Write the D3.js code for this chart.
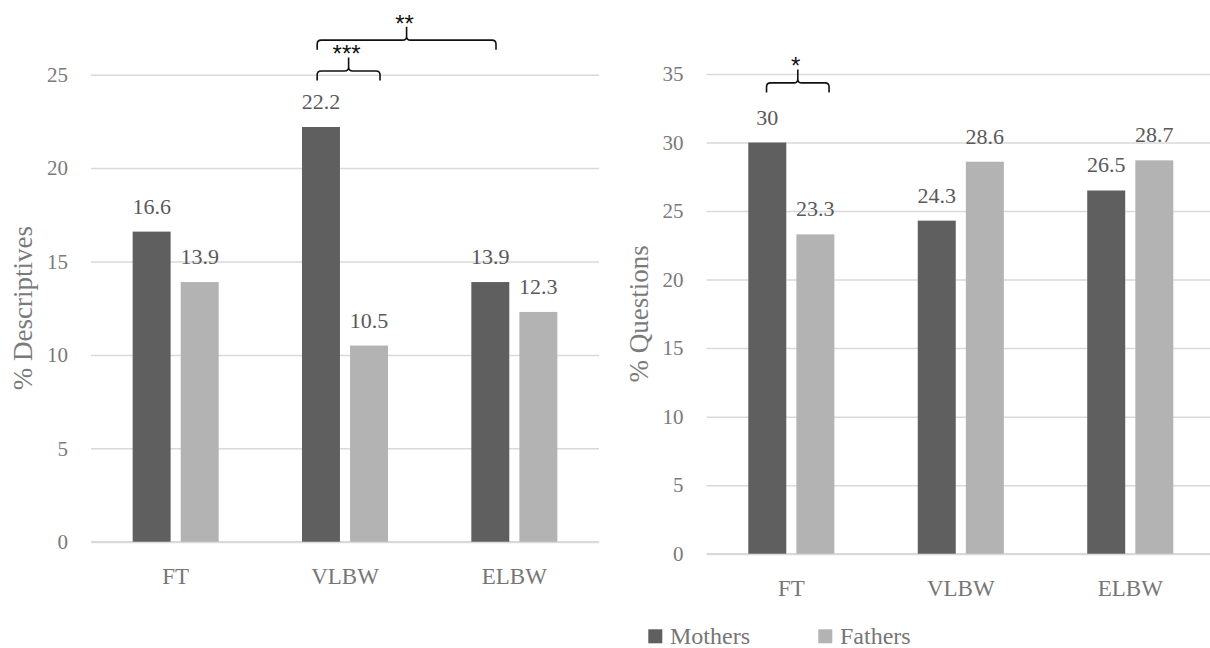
<!DOCTYPE html>
<html>
<head>
<meta charset="utf-8">
<script src="https://cdn.jsdelivr.net/npm/d3@7/dist/d3.min.js"></script>
<style>
  html, body { margin: 0; padding: 0; background: #fff; }
  svg { display: block; }
  svg text { font-family: "Liberation Serif", "DejaVu Serif", serif; }
  svg text.sig { font-family: "Liberation Sans", "DejaVu Sans", sans-serif; }
</style>
</head>
<body>
<svg id="chart" width="1210" height="648"></svg>
<script>
// ---- data ----
const categories = ["FT", "VLBW", "ELBW"];
const seriesNames = ["Mothers", "Fathers"];
const descMothers = [16.6, 22.2, 13.9];
const descFathers = [13.9, 10.5, 12.3];
const questMothers = [30, 24.3, 26.5];
const questFathers = [23.3, 28.6, 28.7];
const descTicks = [0, 5, 10, 15, 20, 25];
const questTicks = [0, 5, 10, 15, 20, 25, 30, 35];
const descTitle = "% Descriptives";
const questTitle = "% Questions";
// significance brackets: [category index, series index, fraction across bar]
const descBrackets = [
  { from: [1, 0, 0.4], to: [1, 1, 0.79], level: 25.2, label: "***" },
  { from: [1, 0, 0.4], to: [2, 0, 0.65], level: 26.85, label: "**" }
];
const questBrackets = [
  { from: [0, 0, 0.48], to: [0, 1, 0.86], level: 34.35, label: "*" }
];

// ---- styles ----
const colors = ["#5f5f5f", "#b3b3b3"];
const svg = d3.select("#chart");
svg.append("rect").attr("width", 1210).attr("height", 648).attr("fill", "#fff");

function drawChart(opts) {
  const { left, right, top, bottom, max, ticks, m, f, title, titleX, brackets } = opts;
  const g = svg.append("g");
  const x = d3.scaleBand().domain(categories).range([left, right]).paddingInner(0.492).paddingOuter(0.246);
  const xs = d3.scaleBand().domain(seriesNames).range([0, x.bandwidth()]).paddingInner(0.21);
  const y = d3.scaleLinear().domain([0, max]).range([bottom, top]);

  // gridlines + tick labels
  const ya = g.append("g").attr("transform", `translate(${left},0)`)
    .call(d3.axisLeft(y).tickValues(ticks).tickSize(-(right - left)).tickPadding(23).tickFormat(d3.format("d")));
  ya.attr("font-family", null);
  ya.select(".domain").remove();
  ya.selectAll(".tick line").attr("stroke", "#d9d9d9").attr("stroke-width", d => d === 0 ? 2.2 : 1.5);
  ya.selectAll(".tick text").attr("fill", "#7a7a7a").style("font-size", "21px");

  // category axis
  const xa = g.append("g").attr("transform", `translate(0,${bottom})`)
    .call(d3.axisBottom(x).tickSize(0).tickPadding(26));
  xa.attr("font-family", null);
  xa.select(".domain").remove();
  xa.selectAll(".tick text").attr("fill", "#767676").style("font-size", "23px");

  // bars
  const rows = categories.map((c, i) => ({ c, vals: [m[i], f[i]] }));
  const grp = g.selectAll(".grp").data(rows).enter().append("g")
    .attr("transform", d => `translate(${x(d.c)},0)`);
  grp.selectAll("rect").data(d => d.vals.map((v, k) => ({ v, k }))).enter().append("rect")
    .attr("x", d => xs(seriesNames[d.k]))
    .attr("width", xs.bandwidth())
    .attr("y", d => y(d.v))
    .attr("height", d => y(0) - y(d.v))
    .attr("fill", d => colors[d.k]);
  grp.selectAll("text.val").data(d => d.vals.map((v, k) => ({ v, k }))).enter().append("text")
    .attr("class", "val")
    .attr("x", d => xs(seriesNames[d.k]) + xs.bandwidth() / 2)
    .attr("y", d => y(d.v) - 18)
    .attr("text-anchor", "middle")
    .attr("fill", "#595959")
    .style("font-size", "22px")
    .text(d => d.v);

  // axis title
  g.append("text")
    .attr("transform", `translate(${titleX},${(top + bottom) / 2}) rotate(-90)`)
    .attr("text-anchor", "middle")
    .attr("dominant-baseline", "central")
    .attr("fill", "#7a7a7a")
    .style("font-size", "27px")
    .text(title);

  // brackets
  const px = p => x(categories[p[0]]) + xs(seriesNames[p[1]]) + xs.bandwidth() * p[2];
  brackets.forEach(b => {
    const x1 = px(b.from), x2 = px(b.to), yy = y(b.level), xm = (x1 + x2) / 2;
    const d = 9.5, r = 4, st = 13.5;
    const path = `M${x1},${yy + d} L${x1},${yy + r} Q${x1},${yy} ${x1 + r},${yy} ` +
      `L${xm - r},${yy} Q${xm},${yy} ${xm},${yy - r} L${xm},${yy - st} ` +
      `M${xm},${yy - r} Q${xm},${yy} ${xm + r},${yy} L${x2 - r},${yy} Q${x2},${yy} ${x2},${yy + r} L${x2},${yy + d}`;
    g.append("path").attr("d", path).attr("fill", "none").attr("stroke", "#111").attr("stroke-width", 1.6);
    g.append("text")
      .attr("class", "sig")
      .attr("x", xm - 2)
      .attr("y", yy - st + 5)
      .attr("text-anchor", "middle")
      .attr("fill", "#111")
      .style("font-size", "24px")
      .text(b.label);
  });
}

drawChart({ left: 91, right: 599, top: 74.7, bottom: 541.7, max: 25, ticks: descTicks,
  m: descMothers, f: descFathers, title: descTitle, titleX: 22.5, brackets: descBrackets });
drawChart({ left: 706.6, right: 1215, top: 74, bottom: 553.7, max: 35, ticks: questTicks,
  m: questMothers, f: questFathers, title: questTitle, titleX: 639, brackets: questBrackets });

// legend
const legX = [648.3, 818.3];
const lg = svg.append("g");
seriesNames.forEach((s, i) => {
  lg.append("rect").attr("x", legX[i]).attr("y", 629.3).attr("width", 14).attr("height", 14).attr("fill", colors[i]);
  lg.append("text").attr("x", legX[i] + 21.7).attr("y", 644)
    .attr("fill", "#767676").style("font-size", "24px").text(s);
});
</script>
</body>
</html>
